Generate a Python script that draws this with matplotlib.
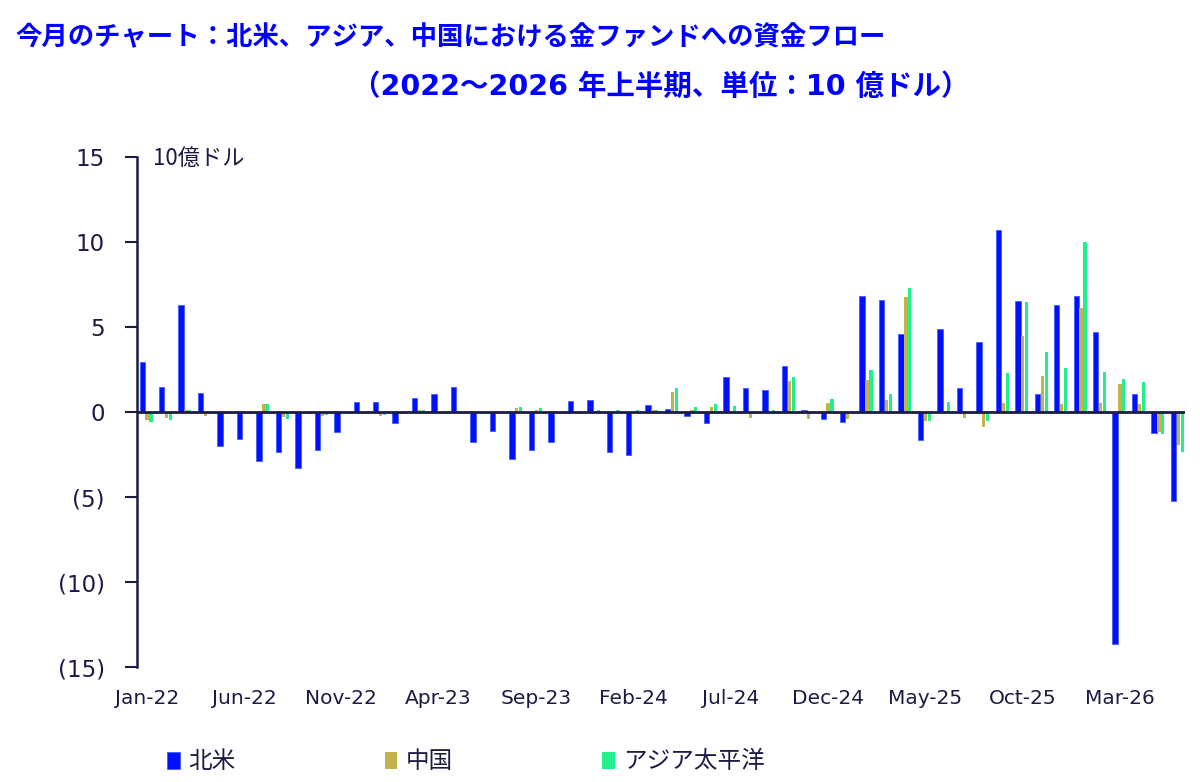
import matplotlib.pyplot as plt
import numpy as np

font_size = 17
jp = ['Noto Sans CJK JP', 'DejaVu Sans']
latin_jp = ['DejaVu Sans', 'Noto Sans CJK JP']

# monthly flows, Jan-22 .. Jun-26 (US$ bn)
months = ['Jan-22', 'Jun-22', 'Nov-22', 'Apr-23', 'Sep-23', 'Feb-24',
          'Jul-24', 'Dec-24', 'May-25', 'Oct-25', 'Mar-26']
north_america = [2.94, 1.47, 6.33, 1.14, -2.0, -1.57, -2.9, -2.35, -3.3, -2.2,
                 -1.18, 0.59, 0.59, -0.63, 0.84, 1.08, 1.47, -1.73, -1.12, -2.76,
                 -2.24, -1.75, 0.65, 0.72, -2.37, -2.53, 0.39, 0.18, -0.25, -0.65,
                 2.06, 1.43, 1.33, 2.69, 0.1, -0.43, -0.59, 6.82, 6.59, 4.57,
                 -1.67, 4.9, 1.43, 4.1, 10.7, 6.53, 1.04, 6.29, 6.84, 4.73,
                 -13.65, 1.06, -1.2, -5.24]
china = [-0.45, -0.35, 0.1, -0.25, -0.05, 0.0, 0.45, -0.3, 0.0, -0.2,
         0.0, 0.0, -0.2, 0.0, 0.15, 0.0, 0.0, 0.0, 0.0, 0.25,
         0.15, 0.0, 0.0, 0.05, 0.0, 0.0, 0.1, 1.2, 0.15, 0.3,
         0.0, -0.35, 0.0, 1.82, -0.43, 0.55, -0.43, 1.9, 0.73, 6.76,
         -0.5, 0.05, -0.33, -0.9, 0.55, 4.47, 2.12, 0.49, 6.14, 0.55,
         1.67, 0.49, -1.18, -1.96]
asia_pacific = [-0.6, -0.45, 0.1, 0.0, -0.05, 0.0, 0.45, -0.4, 0.0, -0.15,
                0.0, 0.0, -0.15, 0.0, 0.15, 0.0, 0.0, 0.0, 0.05, 0.3,
                0.25, 0.0, 0.0, 0.15, 0.15, 0.15, 0.15, 1.43, 0.3, 0.45,
                0.35, 0.0, 0.15, 2.06, 0.0, 0.75, 0.0, 2.45, 1.04, 7.31,
                -0.5, 0.57, 0.0, -0.5, 2.3, 6.47, 3.55, 2.61, 9.98, 2.37,
                1.96, 1.76, -1.27, -2.35]

navy = '#1B1B45'
blue = '#0010FF'
gold = '#C4B24C'
green = '#22F08C'

fig = plt.figure(figsize=(12, 7.82), dpi=100)
ax = fig.add_axes([0.114, 0.147, 0.8735, 0.652])

x = np.arange(len(north_america))
ax.bar(x - 0.23, north_america, 0.28, color=blue, edgecolor='#4060FF', linewidth=0.6, label='北米')
ax.bar(x + 0.02, china, 0.17, color=gold, linewidth=0, label='中国')
ax.bar(x + 0.22, asia_pacific, 0.16, color=green, linewidth=0, label='アジア太平洋')

ax.axhline(0, color=navy, lw=2, zorder=5)

ax.set_xlim(-0.51, 53.36)
ax.set_ylim(-15, 15)
ax.set_yticks([15, 10, 5, 0, -5, -10, -15])
ax.set_yticklabels([f"({abs(v)})" if v < 0 else str(v) for v in [15, 10, 5, 0, -5, -10, -15]])
ax.set_xticks(np.arange(0, len(north_america), 5)[:len(months)])
ax.set_xticklabels(months)

for s in ['top', 'right', 'bottom']:
    ax.spines[s].set_visible(False)
ax.spines['left'].set_color(navy)
ax.spines['left'].set_linewidth(1.8)

ax.tick_params(axis='y', direction='out', length=9, width=1.5, color=navy,
               labelcolor=navy, labelsize=16.5, pad=14)
ax.tick_params(axis='x', length=0, labelcolor=navy, labelsize=14.5, pad=16)

# unit label
fig.text(153 / 1200, 1 - 158 / 782, '10億ドル', family=jp, fontsize=16, color=navy, va='center')

# title
fig.text(15 / 1200, 1 - 38 / 782, '今月のチャート：北米、アジア、中国における金ファンドへの資金フロー',
         family=jp, fontsize=19, fontweight='bold', color='#0000FF', va='center')
fig.text(352 / 1200, 1 - 87 / 782, '（2022～2026 年上半期、単位：10 億ドル）',
         family=latin_jp, fontsize=20.5, fontweight='bold', color='#0000FF', va='center')

fig.legend(loc='center left', bbox_to_anchor=(146 / 1200, 1 - 762 / 782), ncol=3, frameon=False,
           prop={'family': jp, 'size': font_size}, handlelength=0.55, handleheight=0.75,
           handletextpad=0.35, columnspacing=6.3, labelcolor=navy)

fig.savefig('out.png', dpi=100)
